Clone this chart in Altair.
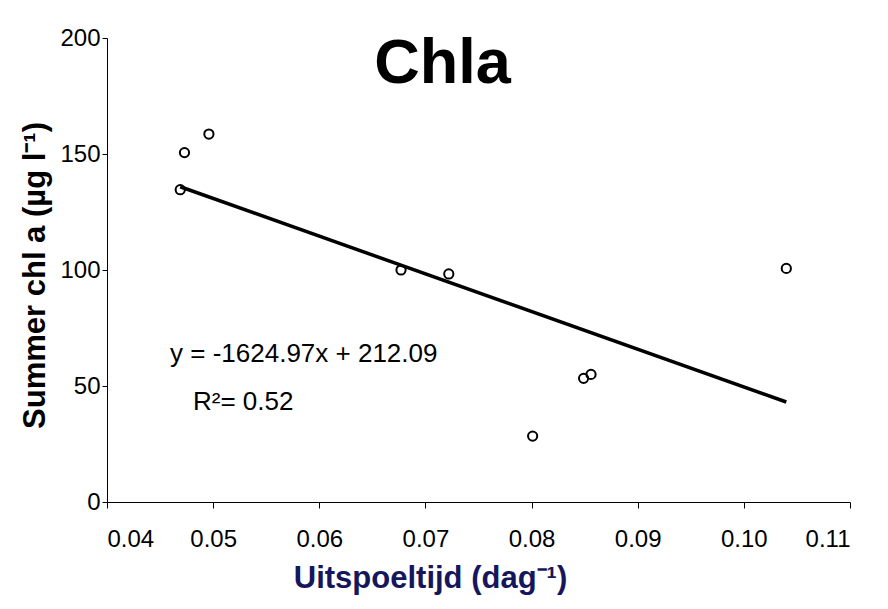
import altair as alt
import pandas as pd

# Data
uitspoeltijd = [0.0469, 0.0473, 0.0496, 0.0677, 0.0722, 0.0801, 0.0849, 0.0856, 0.1040]
chl_a = [134.6, 150.6, 158.6, 100.0, 98.3, 28.4, 53.3, 55.0, 100.7]

slope = -1624.97
intercept = 212.09
r2 = 0.52

x_ticks = [0.04, 0.05, 0.06, 0.07, 0.08, 0.09, 0.10, 0.11]
y_ticks = [0, 50, 100, 150, 200]

pts = pd.DataFrame({"x": uitspoeltijd, "y": chl_a})
x0, x1 = min(uitspoeltijd), max(uitspoeltijd)
fit = pd.DataFrame({"x": [x0, x1], "y": [slope * x0 + intercept, slope * x1 + intercept]})

FONT = "Liberation Sans"

xscale = alt.Scale(domain=[0.04, 0.11], nice=False, zero=False)
yscale = alt.Scale(domain=[0, 200], nice=False)

xaxis = alt.Axis(
    values=x_ticks, format=".2f", title="Uitspoeltijd (dag⁻¹)",
    titleColor="#16165c", titleFontSize=31, titleFont=FONT, titleFontWeight="bold",
    titleX=323, titleY=76, titleAlign="center", titleBaseline="middle",
    labelPadding=19, tickSize=6,
)
yaxis = alt.Axis(
    values=y_ticks, title="Summer chl a (µg l⁻¹)",
    titleColor="black", titleFontSize=31, titleFont=FONT, titleFontWeight="bold",
    titleX=-72, titleY=237, titleAlign="center", titleBaseline="middle", titleAngle=270,
    labelPadding=2, tickSize=5,
)

line = alt.Chart(fit).mark_line(color="black", strokeWidth=3.5).encode(
    x=alt.X("x:Q", scale=xscale, axis=xaxis),
    y=alt.Y("y:Q", scale=yscale, axis=yaxis),
)

points = alt.Chart(pts).mark_point(
    shape="circle", filled=False, color="black", strokeWidth=2, size=85, opacity=1
).encode(
    x=alt.X("x:Q", scale=xscale),
    y=alt.Y("y:Q", scale=yscale),
)

base_text = alt.Chart(pd.DataFrame({"a": [0]}))

eq = base_text.mark_text(
    text=f"y = {slope:.2f}x + {intercept:.2f}", font=FONT, fontSize=26,
    align="left", baseline="middle", color="black"
).encode(x=alt.datum(0.04594), y=alt.datum(63.8))

r2_text = base_text.mark_text(
    text=f"R²= {r2:.2f}", font=FONT, fontSize=26,
    align="left", baseline="middle", color="black"
).encode(x=alt.datum(0.0481), y=alt.datum(43.1))

title = base_text.mark_text(
    text="Chla", font=FONT, fontSize=63, fontWeight="bold",
    align="center", baseline="middle", color="black"
).encode(x=alt.datum(0.0716), y=alt.datum(189.0))

chart = alt.layer(line, points, eq, r2_text, title).properties(
    width=743, height=464,
    padding={"left": 107, "top": 38, "right": 38, "bottom": 107},
    autosize="none",
    background="white",
).configure_view(stroke=None).configure_axis(
    grid=False, domainColor="black", tickColor="black", domainWidth=1, tickWidth=1,
    labelFont=FONT, labelFontSize=24, labelColor="black",
)

chart.save("out.html", embed_options={"renderer": "svg", "actions": False})
